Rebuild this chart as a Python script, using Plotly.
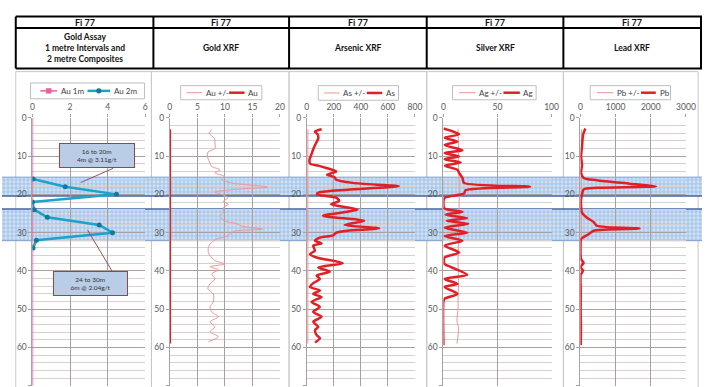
import plotly.graph_objects as go

W, H = 712, 387

# ---------------- data ----------------
# Gold assay: 1 m intervals and 2 m composites (g/t)
au1_depth = [0, 10, 20, 30, 40, 50, 60, 70]
au1_val = [0, 0, 0, 0, 0, 0, 0, 0]
au2_depth = [16, 18, 20, 22, 24, 26, 28, 30, 32, 34]
au2_val = [0.03, 1.74, 4.47, 0.0, 0.09, 0.79, 3.55, 4.26, 0.21, 0.03]

# Gold XRF (ppm)
au_depth = [3, 10, 20, 30, 40, 50, 59]
au_val = [0, 0, 0, 0, 0, 0, 0]
au_err_depth = [3.2, 4.0, 5.4, 6.5, 8.0, 9.0, 10.5, 11.8, 12.7, 13.6, 14.4, 15.3, 16.1, 17.0,
                18.1, 18.7, 19.4, 20.0, 20.9, 21.8, 22.6, 23.5, 24.8, 25.8, 26.9, 27.8, 28.3,
                29.1, 29.6, 30.4, 31.0, 31.5, 32.2, 33.0, 33.9, 35.2, 36.0, 37.3, 38.2, 38.9,
                39.7, 40.8, 42.1, 43.4, 44.7, 46.0, 48.1, 49.4, 50.7, 52.0, 53.3, 54.6, 55.9,
                57.2, 58.5]
au_err_val = [7.6, 7.1, 8.1, 8.2, 8.2, 6.9, 6.9, 7.3, 7.6, 9.1, 8.2, 9.9, 9.4, 11.2,
              17.7, 11.8, 8.2, 9.4, 10.6, 9.7, 10.6, 9.7, 9.7, 9.1, 10.0, 12.4, 13.0,
              16.8, 11.8, 10.9, 10.4, 8.8, 7.9, 7.3, 7.0, 7.0, 7.3, 8.2, 10.0, 7.3,
              8.8, 7.6, 8.2, 7.3, 6.9, 7.9, 7.9, 7.3, 7.6, 8.8, 7.3, 8.2, 7.3,
              8.8, 7.0]

# Arsenic XRF (ppm)
as_depth = [3.0, 3.6, 4.3, 5.4, 6.5, 8.0, 9.5, 11.0, 12.0, 12.5, 13.1, 14.0, 14.4, 14.9,
            15.5, 16.1, 17.0, 17.9, 18.8, 19.5, 20.0, 20.9, 21.7, 22.6, 24.0, 25.6, 26.9,
            28.0, 28.9, 29.5, 30.0, 30.7, 31.3, 32.1, 32.8, 33.4, 34.7, 35.6, 36.5, 38.0,
            39.1, 40.2, 41.2, 42.1, 43.2, 44.2, 45.1, 46.0, 46.8, 48.1, 49.4, 50.7, 52.0,
            53.3, 54.6, 55.5, 56.8, 57.6, 58.7]
as_val = [110, 60, 80, 85, 70, 50, 35, 20, 25, 85, 145, 218, 190, 150,
          206, 215, 340, 680, 300, 90, 75, 220, 240, 180, 375, 120, 425,
          280, 535, 300, 220, 195, 97, 60, 109, 48, 60, 24, 73, 267,
          85, 170, 73, 97, 48, 24, 97, 48, 109, 36, 97, 48, 109,
          48, 85, 61, 73, 97, 61]
as_err_depth = [3, 15, 30, 45, 59]
as_err_val = [8, 8, 8, 8, 8]

# Silver XRF (ppm)
ag_depth = [2.8, 4.3, 5.2, 6.2, 7.1, 8.5, 9.2, 10.1, 10.8, 11.7, 12.5, 13.6, 14.4, 15.7,
            17.0, 18.0, 18.9, 19.8, 20.9, 22.6, 23.7, 24.6, 25.3, 26.2, 26.9, 27.7, 28.7,
            30.0, 30.9, 32.1, 33.4, 35.2, 36.5, 38.2, 39.0, 41.0, 42.1, 43.4, 44.2, 46.0,
            47.3, 48.1, 59.4]
ag_val = [0, 14.5, 1, 13, 1, 17.6, 1, 14.5, 1, 16, 1.5, 13, 14.5, 17.6,
          19, 80, 20.6, 19, 1, 0, 1, 17.6, 2, 22, 3, 23, 1,
          22, 1, 17.6, 1, 14.5, 1, 1, 7, 22, 1, 13, 1, 13,
          1, 0, 0]
ag_err_depth = [3, 8, 13, 18, 23, 28, 33, 36, 38, 43, 47, 50, 53, 55, 57, 59]
ag_err_val = [13.5, 14, 14, 14.5, 14.5, 14, 14, 13.5, 13.5, 14, 13.5, 13.5, 12.5, 14, 13.5, 12.5]

# Lead XRF (ppm)
pb_depth = [2.8, 4.5, 7.5, 10.1, 12.3, 14.4, 15.7, 16.3, 17.2, 17.9, 18.3, 18.7, 20.0,
            21.3, 23.0, 24.8, 26.1, 27.2, 28.2, 28.9, 29.5, 30.4, 31.7, 33.4, 36.9,
            37.9, 39.0, 39.9, 41.2, 45.0, 50.0, 55.0, 59.4]
pb_val = [140, 75, 47, 19, 47, 19, 93, 466, 1400, 2140, 466, 93, 47,
          19, 19, 47, 186, 373, 466, 1680, 373, 233, 19, 0, 19,
          93, 0, 75, 0, 10, 5, 15, 10]
pb_err_depth = [3, 15, 30, 45, 59]
pb_err_val = [30, 30, 30, 30, 30]

# Mineralised intervals (m)
band_top = [15.5, 23.8]
band_bottom = [20.4, 32.1]

# Column headings
hole_id = "Fi 77"
col_titles = ["Gold Assay<br>1 metre Intervals and<br>2 metre Composites",
              "Gold XRF", "Arsenic XRF", "Silver XRF", "Lead XRF"]
callout_text = ["16 to 20m<br>4m @ 3.11g/t", "24 to 30m<br>6m @ 2.04g/t"]

# ---------------- styling ----------------
RED = "rgb(226,30,38)"
PINK = "rgb(236,150,152)"
AU1 = "rgb(232,96,160)"
AU2 = "rgb(28,162,204)"
GRID = "rgb(170,160,160)"
MINOR = "rgb(214,208,208)"
TXT = "#595959"
FONT = "Lato, 'Open Sans', sans-serif"


def fx(p):
    return p / W


def fy(p):
    return 1 - p / H


Y_DOM = [fy(385.7), fy(114.3)]

panels = [
    dict(x0=31, x1=145.7, rng=[0, 6], dtick=2),
    dict(x0=170.7, x1=282.7, rng=[0, 20], dtick=5),
    dict(x0=310, x1=420, rng=[0, 800], dtick=200),
    dict(x0=449, x1=559, rng=[0, 100], dtick=50),
    dict(x0=588.3, x1=695.7, rng=[0, 3000], dtick=1000),
]

fig = go.Figure()

# highlighted intervals, full width, drawn on the first (lowest) subplot
centres = [(a + b) / 2 for a, b in zip(band_top, band_bottom)]
widths = [b - a for a, b in zip(band_top, band_bottom)]
fig.add_trace(go.Bar(
    x=[1] * len(centres), y=centres, base=0, width=widths, orientation="h",
    xaxis="x", yaxis="y", showlegend=False, hoverinfo="skip",
    marker=dict(color="rgb(205,223,243)", line=dict(width=0),
                pattern=dict(shape="+", size=4, solidity=0.3, fillmode="replace",
                             fgcolor="rgb(140,178,222)", bgcolor="rgb(208,226,246)")),
))
for d, c, w in [(band_top[0], "rgb(130,160,205)", 1), (band_bottom[0], "rgb(70,100,160)", 1.5),
                (band_top[1], "rgb(70,100,160)", 1.5), (band_bottom[1], "rgb(130,160,205)", 1)]:
    fig.add_trace(go.Scatter(x=[0, 1], y=[d, d], mode="lines", xaxis="x", yaxis="y",
                             line=dict(color=c, width=w), showlegend=False, hoverinfo="skip"))

# panel 1: gold assay
fig.add_trace(go.Scatter(x=au1_val, y=au1_depth, mode="lines", name="Au 1m",
                         line=dict(color=AU1, width=1.5), xaxis="x2", yaxis="y2"))
fig.add_trace(go.Scatter(x=au2_val, y=au2_depth, mode="lines+markers", name="Au 2m",
                         line=dict(color=AU2, width=2.5),
                         marker=dict(color="rgb(20,120,150)", size=5),
                         xaxis="x2", yaxis="y2"))

# panels 2-5: XRF readings
xrf = [
    ("x3", "y3", au_err_val, au_err_depth, au_val, au_depth, "Au"),
    ("x4", "y4", as_err_val, as_err_depth, as_val, as_depth, "As"),
    ("x5", "y5", ag_err_val, ag_err_depth, ag_val, ag_depth, "Ag"),
    ("x6", "y6", pb_err_val, pb_err_depth, pb_val, pb_depth, "Pb"),
]
for xa, ya, ev, ed, v, d, el in xrf:
    fig.add_trace(go.Scatter(x=ev, y=ed, mode="lines", name=el + " +/-",
                             line=dict(color=PINK, width=1, shape="spline", smoothing=0.8),
                             xaxis=xa, yaxis=ya))
    fig.add_trace(go.Scatter(x=v, y=d, mode="lines", name=el,
                             line=dict(color=RED, width=2.5, shape="spline", smoothing=0.7),
                             xaxis=xa, yaxis=ya))

layout = dict(
    width=W, height=H, margin=dict(l=0, r=0, t=0, b=0),
    paper_bgcolor="white", plot_bgcolor="rgba(0,0,0,0)",
    showlegend=False, font=dict(family=FONT, size=9, color=TXT),
    xaxis=dict(domain=[0, 1], range=[0, 1], visible=False, fixedrange=True),
    yaxis=dict(domain=Y_DOM, range=[70, 0], visible=False, fixedrange=True),
    bargap=0,
)
for i, p in enumerate(panels):
    n = i + 2
    layout[f"xaxis{n}"] = dict(
        domain=[fx(p["x0"]), fx(p["x1"])], range=p["rng"], dtick=p["dtick"], tick0=0,
        side="top", anchor=f"y{n}", showgrid=True, gridcolor=GRID, gridwidth=1,
        zeroline=False, showline=False, ticks="outside", ticklen=3, tickcolor=GRID,
        tickfont=dict(size=8.5, color=TXT), fixedrange=True,
    )
    layout[f"yaxis{n}"] = dict(
        domain=Y_DOM, range=[70, 0], dtick=10, tick0=0, anchor=f"x{n}",
        showgrid=True, gridcolor=GRID, gridwidth=1, zeroline=False,
        showline=True, linecolor=GRID, ticks="outside", ticklen=3, tickcolor=GRID,
        minor=dict(dtick=2, showgrid=True, gridcolor=MINOR, gridwidth=1),
        tickfont=dict(size=8.5, color=TXT), fixedrange=True,
    )
fig.update_layout(**layout)

shapes = []
annotations = []

# panel frames
frames = [(14, 152), (152, 292), (292, 432), (432, 571), (571, 708)]
for a, b in frames:
    shapes.append(dict(type="rect", xref="paper", yref="paper", x0=fx(a), x1=fx(b),
                       y0=fy(395), y1=fy(67.5), line=dict(color="rgb(200,200,200)", width=1),
                       layer="below"))

# header table
cols = [14, 154, 292, 432, 571, 711]
for yy in [11.7, 23.3, 64.3]:
    shapes.append(dict(type="line", xref="paper", yref="paper", x0=fx(14), x1=1,
                       y0=fy(yy), y1=fy(yy), line=dict(color="black", width=2)))
for xx in cols:
    shapes.append(dict(type="line", xref="paper", yref="paper", x0=fx(xx), x1=fx(xx),
                       y0=fy(11.7), y1=fy(64.3), line=dict(color="black", width=2)))
for i in range(5):
    cx = (cols[i] + cols[i + 1]) / 2
    annotations.append(dict(xref="paper", yref="paper", x=fx(cx), y=fy(17.6),
                            text=f"<b>{hole_id}</b>", showarrow=False,
                            font=dict(size=9, color="#111"), xanchor="center", yanchor="middle"))
    annotations.append(dict(xref="paper", yref="paper", x=fx(cx), y=fy(44),
                            text=f"<b>{col_titles[i]}</b>", showarrow=False,
                            font=dict(size=8.5, color="#111"), xanchor="center",
                            yanchor="middle", align="center"))

# legends, one per panel
legends = [
    dict(box=(29, 79, 145, 95),
         items=[("Au 1m", 39, 56, AU1, 1.5, "square", 58),
                ("Au 2m", 87, 110, AU2, 2.5, "circle", 111.5)]),
    dict(box=(181.7, 81.7, 264.3, 96),
         items=[("Au +/-", 187.7, 203.3, PINK, 1, None, 205),
                ("Au", 231, 246.7, RED, 2.5, None, 248.5)]),
    dict(box=(321.7, 81.7, 403.3, 96.5),
         items=[("As +/-", 327.7, 343.3, PINK, 1, None, 345),
                ("As", 371, 386.7, RED, 2.5, None, 388.5)]),
    dict(box=(458.3, 81.7, 543.3, 96),
         items=[("Ag +/-", 465, 481.7, PINK, 1, None, 483),
                ("Ag", 510, 526.7, RED, 2.5, None, 528)]),
    dict(box=(598.3, 81.7, 680, 96),
         items=[("Pb +/-", 605, 621.7, PINK, 1, None, 623),
                ("Pb", 650, 665, RED, 2.5, None, 667)]),
]
for lg in legends:
    x0, y0, x1, y1 = lg["box"]
    ym = (y0 + y1) / 2
    shapes.append(dict(type="rect", xref="paper", yref="paper", x0=fx(x0), x1=fx(x1),
                       y0=fy(y1), y1=fy(y0), line=dict(color="rgb(190,190,190)", width=1),
                       fillcolor="white"))
    for label, la, lb, col, lw, sym, tx in lg["items"]:
        shapes.append(dict(type="line", xref="paper", yref="paper", x0=fx(la), x1=fx(lb),
                           y0=fy(ym), y1=fy(ym), line=dict(color=col, width=lw)))
        if sym:
            mc = (la + lb) / 2
            r = 2.5
            mcol = col if sym == "square" else "rgb(20,120,150)"
            shapes.append(dict(type="rect" if sym == "square" else "circle",
                               xref="paper", yref="paper", x0=fx(mc - r), x1=fx(mc + r),
                               y0=fy(ym + r), y1=fy(ym - r), fillcolor=mcol,
                               line=dict(color=mcol, width=0.5)))
        annotations.append(dict(xref="paper", yref="paper", x=fx(tx), y=fy(ym),
                                text=label, showarrow=False, xanchor="left", yanchor="middle",
                                font=dict(size=8, color="#404040")))

# callouts for the mineralised intervals
callouts = [
    dict(cx=3.45, cy=9.95, w=74, h=23, line=((2.57, 16.9), (4.29, 13.2))),
    dict(cx=3.11, cy=43.35, w=73, h=23, line=((2.93, 29.3), (4.24, 40.1))),
]
for c, txt in zip(callouts, callout_text):
    (ax, ay), (bx, by) = c["line"]
    shapes.append(dict(type="line", xref="x2", yref="y2", x0=ax, y0=ay, x1=bx, y1=by,
                       line=dict(color="rgb(160,80,80)", width=1)))
    annotations.append(dict(xref="x2", yref="y2", x=c["cx"], y=c["cy"], text=txt,
                            showarrow=False, width=c["w"], height=c["h"],
                            bgcolor="rgb(185,205,230)", bordercolor="rgb(150,70,70)",
                            borderwidth=1, borderpad=0, align="center",
                            font=dict(size=6.5, color="#333")))

fig.update_layout(shapes=shapes, annotations=annotations)
fig.write_html("out.html")
